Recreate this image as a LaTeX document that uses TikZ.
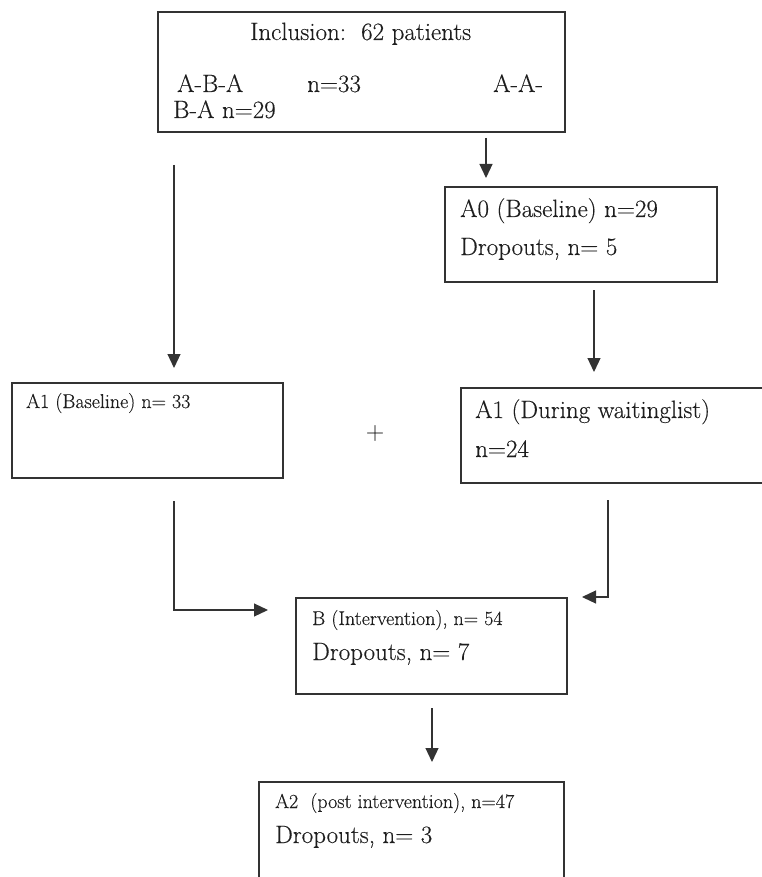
\documentclass[tikz,border=0pt]{standalone}
\usepackage{fontspec}
\setmainfont{Latin Modern Roman}[FakeBold=0.25]
\usetikzlibrary{arrows.meta}
\newcommand\fbig{\fontsize{25}{29}\selectfont}
\newcommand\fsmall{\fontsize{20}{24}\selectfont}
\definecolor{linec}{HTML}{333333}
\definecolor{txtc}{HTML}{1E1E1E}
\tikzset{
  box/.style={draw=linec, line width=1.2pt, rectangle, inner sep=0pt},
  lbl/.style={anchor=base west, inner sep=0pt, text=txtc},
  arr/.style={draw=linec, line width=1.2pt, -{Triangle[length=14pt,width=13pt]}},
  conn/.style={draw=linec, line width=1.2pt}
}
\begin{document}
\begin{tikzpicture}[x=1pt,y=-1pt]
\useasboundingbox (0,0) rectangle (762,877);
\clip (0,0) rectangle (762,877);
\fill[white] (0,0) rectangle (762,877);
% boxes
\node[box, minimum width=407pt, minimum height=120pt] (top) at (361.5,72) {};
\node[box, minimum width=272pt, minimum height=95pt] (a0) at (581,234.5) {};
\node[box, minimum width=271pt, minimum height=95pt] (a1l) at (147.5,430.5) {};
\node[box, minimum width=319pt, minimum height=95pt] (a1r) at (620.5,435.5) {};
\node[box, minimum width=271pt, minimum height=96pt] (b) at (431.5,646) {};
\node[box, minimum width=305pt, minimum height=118pt] (a2) at (411.5,841) {};
% texts
\node[lbl, font=\fbig] (t1) at (250,40) {Inclusion:\ \ 62 patients};
\node[lbl, font=\fbig] (t2) at (177,92) {A-B-A};
\node[lbl, font=\fbig] (t3) at (307,92) {n=33};
\node[lbl, font=\fbig] (t4) at (493,92) {A-A-};
\node[lbl, font=\fbig] (t5) at (173,118) {B-A n=29};
\node[lbl, font=\fbig] (t6) at (460,217) {A0 (Baseline) n=29};
\node[lbl, font=\fbig] (t7) at (460,255) {Dropouts, n= 5};
\node[lbl, font=\fsmall] (t8) at (26,408) {A1 (Baseline) n= 33};
\node[lbl, font=\fbig] (t9) at (475,418) {A1 (During waitinglist)};
\node[lbl, font=\fbig] (t10) at (475,457) {n=24};
\node[lbl, font=\fsmall] (t11) at (312,625) {B (Intervention), n= 54};
\node[lbl, font=\fbig] (t12) at (312,660) {Dropouts, n= 7};
\node[lbl, font=\fsmall] (t13) at (275,808) {A2\ \ (post intervention), n=47};
\node[lbl, font=\fbig] (t14) at (275,843) {Dropouts, n= 3};
\node[inner sep=0pt, text=txtc, font=\fbig] (plus) at (375,433) {+};
% connector ends
\coordinate (c1s) at (486,138);
\coordinate (c1e) at (486,178);
\coordinate (c2s) at (174,165);
\coordinate (c2e) at (174,368);
\coordinate (c3s) at (594,290);
\coordinate (c3e) at (594,372);
\coordinate (c4s) at (174,501);
\coordinate (c4m) at (174,610);
\coordinate (c4e) at (268,610);
\coordinate (c5s) at (608,500);
\coordinate (c5m) at (608,597);
\coordinate (c5e) at (582,597);
\coordinate (c6s) at (432,708);
\coordinate (c6e) at (432,762);
% connectors
\draw[arr] (c1s) -- (c1e);
\draw[arr] (c2s) -- (c2e);
\draw[arr] (c3s) -- (c3e);
\draw[arr] (c4s) -- (c4m) -- (c4e);
\draw[arr] (c5s) -- (c5m) -- (c5e);
\draw[arr] (c6s) -- (c6e);
\end{tikzpicture}
\end{document}
